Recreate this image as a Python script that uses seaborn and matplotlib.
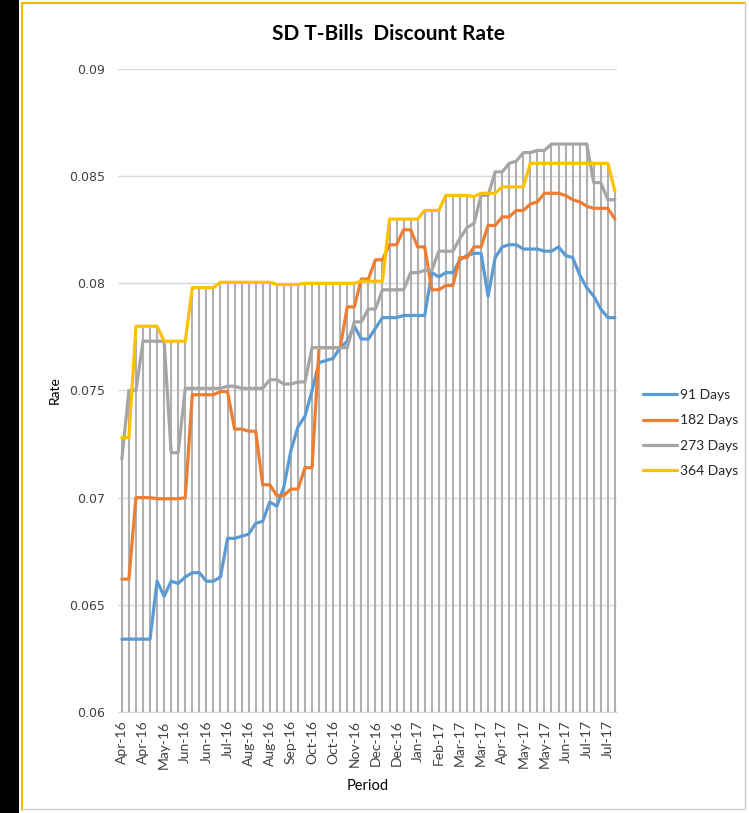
import pandas as pd
import numpy as np
import seaborn as sns
import matplotlib.pyplot as plt
from matplotlib.lines import Line2D
from matplotlib.patches import Rectangle

# Weekly T-bill discount rates (Apr-16 .. Jul-17)
rate_91 = [0.0634, 0.0634, 0.0634, 0.0634, 0.0634, 0.0661, 0.0654, 0.0661, 0.0660, 0.0663,
           0.0665, 0.0665, 0.0661, 0.0661, 0.0663, 0.0681, 0.0681, 0.0682, 0.0683, 0.0688,
           0.0689, 0.0698, 0.0696, 0.0705, 0.0722, 0.0733, 0.0738, 0.0750, 0.0763, 0.0764,
           0.0765, 0.0770, 0.0773, 0.0780, 0.0774, 0.0774, 0.0779, 0.0784, 0.0784, 0.0784,
           0.0785, 0.0785, 0.0785, 0.0785, 0.0805, 0.0803, 0.0805, 0.0805, 0.0811, 0.0813,
           0.0814, 0.0814, 0.0794, 0.0812, 0.0817, 0.0818, 0.0818, 0.0816, 0.0816, 0.0816,
           0.0815, 0.0815, 0.0817, 0.0813, 0.0812, 0.0804, 0.0798, 0.0794, 0.0788, 0.0784,
           0.0784]
rate_182 = [0.0662, 0.0662, 0.0700, 0.0700, 0.0700, 0.06995, 0.06995, 0.06995, 0.06995, 0.0700,
            0.0748, 0.0748, 0.0748, 0.0748, 0.07495, 0.07495, 0.0732, 0.0732, 0.0731, 0.0731,
            0.0706, 0.0706, 0.0701, 0.0701, 0.0704, 0.0704, 0.0714, 0.0714, 0.0770, 0.0770,
            0.0770, 0.0770, 0.0789, 0.0789, 0.0802, 0.0802, 0.0811, 0.0811, 0.0818, 0.0818,
            0.0825, 0.0825, 0.0817, 0.0817, 0.0797, 0.0797, 0.0799, 0.0799, 0.0812, 0.0812,
            0.0817, 0.0817, 0.0827, 0.0827, 0.0831, 0.0831, 0.0834, 0.0834, 0.0837, 0.0838,
            0.0842, 0.0842, 0.0842, 0.0841, 0.0839, 0.0838, 0.0836, 0.0835, 0.0835, 0.0835,
            0.0830]
rate_273 = [0.0718, 0.0750, 0.0750, 0.0773, 0.0773, 0.0773, 0.0773, 0.0721, 0.0721, 0.0751,
            0.0751, 0.0751, 0.0751, 0.0751, 0.0751, 0.0752, 0.0752, 0.0751, 0.0751, 0.0751,
            0.0751, 0.0755, 0.0755, 0.0753, 0.0753, 0.0754, 0.0754, 0.0770, 0.0770, 0.0770,
            0.0770, 0.0770, 0.0770, 0.0782, 0.0782, 0.0788, 0.0788, 0.0797, 0.0797, 0.0797,
            0.0797, 0.0805, 0.0805, 0.0806, 0.0806, 0.0815, 0.0815, 0.0815, 0.0821, 0.0826,
            0.0828, 0.0841, 0.0841, 0.0852, 0.0852, 0.0856, 0.0857, 0.0861, 0.0861, 0.0862,
            0.0862, 0.0865, 0.0865, 0.0865, 0.0865, 0.0865, 0.0865, 0.0847, 0.0847, 0.0839,
            0.0839]
rate_364 = [0.0728, 0.0728, 0.0780, 0.0780, 0.0780, 0.0780, 0.0773, 0.0773, 0.0773, 0.0773,
            0.0798, 0.0798, 0.0798, 0.0798, 0.08005, 0.08005, 0.08005, 0.08005, 0.08005, 0.08005,
            0.08005, 0.08005, 0.07995, 0.07995, 0.07995, 0.07995, 0.0800, 0.0800, 0.0800, 0.0800,
            0.0800, 0.0800, 0.0800, 0.0800, 0.0801, 0.0801, 0.0801, 0.0801, 0.0830, 0.0830,
            0.0830, 0.0830, 0.0830, 0.0834, 0.0834, 0.0834, 0.0841, 0.0841, 0.0841, 0.0841,
            0.08405, 0.0842, 0.0842, 0.0842, 0.0845, 0.0845, 0.0845, 0.0845, 0.0856, 0.0856,
            0.0856, 0.0856, 0.0856, 0.0856, 0.0856, 0.0856, 0.0856, 0.0856, 0.0856, 0.0856,
            0.0843]

series_names = ['91 Days', '182 Days', '273 Days', '364 Days']
series_colors = ['#5B9BD5', '#ED7D31', '#A5A5A5', '#FFC000']

# one label every third week, as on the reference axis
tick_labels = ['Apr-16', 'Apr-16', 'May-16', 'Jun-16', 'Jun-16', 'Jul-16', 'Aug-16', 'Aug-16',
               'Sep-16', 'Oct-16', 'Oct-16', 'Nov-16', 'Dec-16', 'Dec-16', 'Jan-17', 'Feb-17',
               'Mar-17', 'Mar-17', 'Apr-17', 'May-17', 'May-17', 'Jun-17', 'Jul-17', 'Jul-17']

wide = pd.DataFrame({'91 Days': rate_91, '182 Days': rate_182,
                     '273 Days': rate_273, '364 Days': rate_364})
wide['week'] = np.arange(len(wide))
data = wide.melt(id_vars='week', var_name='series', value_name='rate')

sns.set_style('white')
plt.rcParams['font.family'] = ['Lato', 'DejaVu Sans']

fig = plt.figure(figsize=(7.49, 8.13), dpi=100)
W, H = 749, 813
ax = fig.add_axes([118 / W, 1 - 712 / H, (617 - 118) / W, (712 - 69) / H])

# Excel style drop lines from the highest series down to the axis
top = wide[series_names].max(axis=1)
ax.vlines(wide['week'], 0.06, top, color='#b0b0b0', linewidth=1.5, zorder=1)

sns.lineplot(data=data, x='week', y='rate', hue='series', hue_order=series_names,
             palette=series_colors, linewidth=2.3, ax=ax, legend=False, zorder=3)

ax.set_ylim(0.06, 0.09)
ax.set_xlim(-0.55, 70.3)
ax.set_yticks([0.06, 0.065, 0.07, 0.075, 0.08, 0.085, 0.09])
ax.set_yticklabels(['0.06', '0.065', '0.07', '0.075', '0.08', '0.085', '0.09'],
                   family='DejaVu Sans', fontsize=9, color='#404040')
ax.set_xticks(wide['week'][::3])
ax.set_xticklabels(tick_labels, rotation=90, fontsize=10, color='#404040')
ax.tick_params(axis='both', length=0)
ax.tick_params(axis='y', pad=9)
ax.tick_params(axis='x', pad=6)
ax.grid(axis='y', color='#d9d9d9', linewidth=1)
ax.set_axisbelow(True)
for s in ['top', 'right', 'left']:
    ax.spines[s].set_visible(False)
ax.spines['bottom'].set_color('#d9d9d9')
ax.set_xlabel('')
ax.set_ylabel('')

fig.text(388 / W, 1 - 34 / H, 'SD T-Bills  Discount Rate', ha='center', va='center',
         fontsize=15, fontweight='bold', color='#000000')
fig.text(55 / W, 1 - 390 / H, 'Rate', rotation=90, ha='center', va='center',
         fontsize=10, color='#000000')
fig.text(368 / W, 1 - 786 / H, 'Period', ha='center', va='center', fontsize=10.5, color='#000000')

handles = [Line2D([0], [0], color=c, linewidth=2.3) for c in series_colors]
fig.legend(handles, series_names, loc='center left', bbox_to_anchor=(643 / W, 1 - 433 / H),
           frameon=False, fontsize=10, handlelength=2.45, handletextpad=0.25,
           labelspacing=0.95, borderpad=0, borderaxespad=0)

# frame of the screenshot: black band on the left, chart area border
fig.patches.append(Rectangle((0, 0), 19 / W, 1, transform=fig.transFigure,
                             facecolor='black', edgecolor='none'))
fig.add_artist(Line2D([22 / W, 22 / W], [1 - 810 / H, 1 - 3 / H], color='#f2b705',
                      linewidth=1.5, transform=fig.transFigure))
fig.add_artist(Line2D([22 / W, 745 / W], [1 - 3 / H, 1 - 3 / H], color='#f2b705',
                      linewidth=1.5, transform=fig.transFigure))
fig.add_artist(Line2D([745 / W, 745 / W], [1 - 809 / H, 1 - 3 / H], color='#d0d0d0',
                      linewidth=1, transform=fig.transFigure))
fig.add_artist(Line2D([22 / W, 745 / W], [1 - 809 / H, 1 - 809 / H], color='#d0d0d0',
                      linewidth=1, transform=fig.transFigure))

fig.savefig('out.png', dpi=100)
